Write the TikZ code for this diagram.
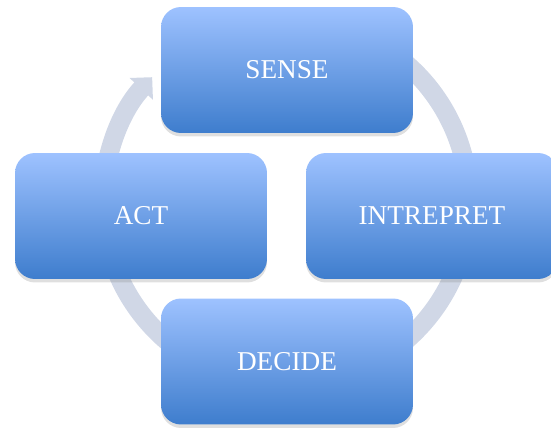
\documentclass[tikz,border=0pt]{standalone}
\usepackage{tikz}
\usepackage{fontspec}
\setmainfont{Liberation Serif}
\usetikzlibrary{arrows.meta,shadows}
\definecolor{boxtop}{RGB}{158,194,255}
\definecolor{boxbottom}{RGB}{62,125,205}
\definecolor{ringgray}{RGB}{208,215,230}

\begin{document}
\begin{tikzpicture}[x=0.02cm,y=0.02cm]
\tikzstyle{every node}+=[inner sep=0pt]
\tikzstyle{stage}=[rectangle, rounded corners=0.4cm, minimum width=5.04cm, minimum height=2.52cm, top color=boxtop, bottom color=boxbottom, text=white, font=\fontsize{15.5}{18}\selectfont, drop shadow={shadow xshift=0pt, shadow yshift=-0.07cm, opacity=0.25}]
\tikzstyle{ring}=[ringgray, line width=0.38cm, -{Triangle[width=0.62cm,length=0.32cm]}]
\useasboundingbox (0,0) rectangle (551,429);
\coordinate (hub) at (286,227);
\draw [ring] (hub) ++(60:183) arc [start angle=60, end angle=-223, radius=183];
\node [stage] (sense) at (287,359) {SENSE};
\node [stage] (intrepret) at (432,213) {INTREPRET};
\node [stage] (decide) at (287,67.5) {DECIDE};
\node [stage] (act) at (141,213) {ACT};
\end{tikzpicture}
\end{document}
